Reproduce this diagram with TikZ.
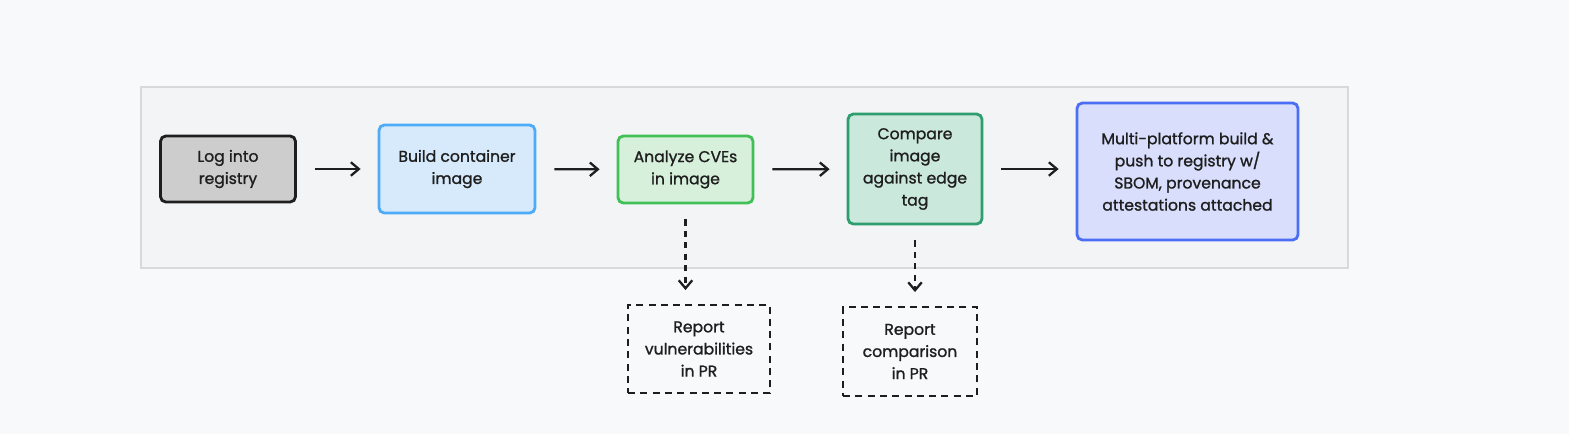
\documentclass[tikz,border=0pt]{standalone}
\usepackage{fontspec}
\setmainfont{Poppins}
\newfontfamily\sketchface{Poppins}[FakeBold=1.2]
\usepackage{xcolor}
\usetikzlibrary{arrows.meta,positioning}
\definecolor{pagebg}{HTML}{F8F9FB}
\definecolor{grpfill}{HTML}{F3F4F6}
\definecolor{grpline}{HTML}{D9D9DB}
\definecolor{inkline}{HTML}{1E1E1E}
\definecolor{loginfill}{HTML}{CDCDCD}
\definecolor{buildline}{HTML}{4DABF7}
\definecolor{buildfill}{HTML}{D6EAFB}
\definecolor{cveline}{HTML}{40C057}
\definecolor{cvefill}{HTML}{D6F0DB}
\definecolor{cmpline}{HTML}{2F9E6E}
\definecolor{cmpfill}{HTML}{CBE8DD}
\definecolor{pushline}{HTML}{4C6EF5}
\definecolor{pushfill}{HTML}{D8DEFB}
\newcommand{\boxfont}{\sketchface\fontsize{8.9}{12.6}\selectfont}

\tikzset{
  stepbox/.style={draw, rounded corners=3pt, line width=1.6pt, align=center,
    font=\boxfont, text=inkline, inner sep=0pt},
  reportbox/.style={draw=inkline, line width=1.1pt, dash pattern=on 4pt off 3pt,
    align=center, font=\boxfont, text=inkline, inner sep=0pt},
  flow/.style={->, draw=inkline, line width=1.3pt, shorten <=0.36cm, shorten >=0.34cm},
  sideflow/.style={flow, dash pattern=on 3.5pt off 3pt, shorten <=0.3cm, shorten >=0.28cm},
}

\begin{document}
\begin{tikzpicture}[x=0.02cm,y=-0.02cm,>={Straight Barb[length=1.6mm,width=2.7mm]}]
  \fill[pagebg] (0,0) rectangle (1569,434);
  \draw[grpline, fill=grpfill, line width=0.8pt] (141,87) rectangle (1348,268);

  % main pipeline
  \node[stepbox, draw=inkline, fill=loginfill, minimum width=2.70cm, minimum height=1.32cm]
    (login) at (228,169) {Log into\\registry};
  \node[stepbox, draw=buildline, fill=buildfill, minimum width=3.12cm, minimum height=1.76cm]
    (build) at (457,169) {Build container\\image};
  \node[stepbox, draw=cveline, fill=cvefill, minimum width=2.70cm, minimum height=1.34cm]
    (cves) at (685.5,169.5) {Analyze CVEs\\in image};
  \node[stepbox, draw=cmpline, fill=cmpfill, minimum width=2.68cm, minimum height=2.20cm]
    (compare) at (915,169) {Compare\\image\\against edge\\tag};
  \node[stepbox, draw=pushline, fill=pushfill, minimum width=4.42cm, minimum height=2.74cm]
    (push) at (1187.5,171.5) {Multi-platform build \&\\push to registry w/\\SBOM, provenance\\attestations attached};

  % reports
  \node[reportbox, minimum width=2.84cm, minimum height=1.76cm]
    (cvereport) at (699,349) {Report\\vulnerabilities\\in PR};
  \node[reportbox, minimum width=2.68cm, minimum height=1.78cm]
    (cmpreport) at (910,351.5) {Report\\comparison\\in PR};

  \draw[flow] (login) -- (build);
  \draw[flow] (build) -- (cves);
  \draw[flow] (cves) -- (compare);
  \draw[flow] (compare.east) -- (compare.east -| push.west);
  \draw[sideflow] (cves.south) -- (cves.south |- cvereport.north);
  \draw[sideflow] (compare.south) -- (compare.south |- cmpreport.north);
\end{tikzpicture}
\end{document}
